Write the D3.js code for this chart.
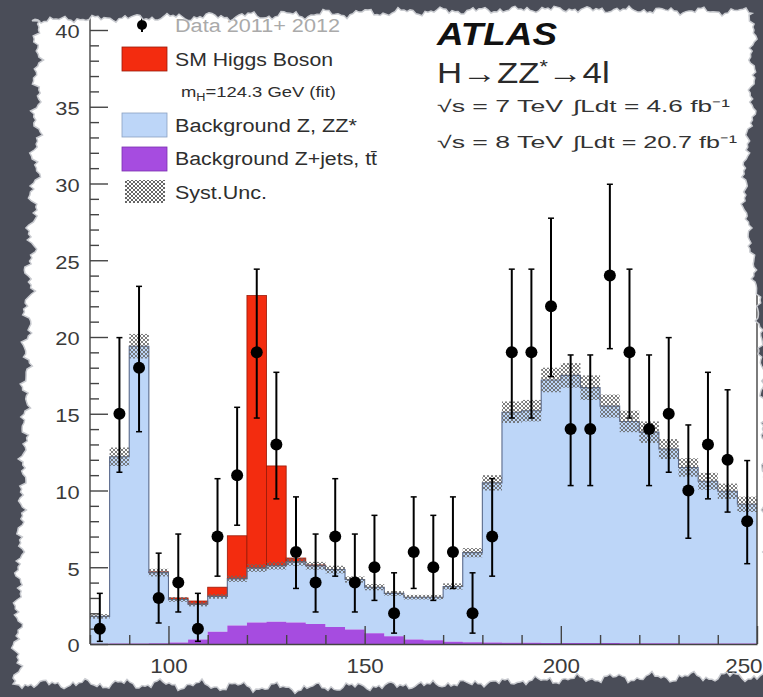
<!DOCTYPE html>
<html><head><meta charset="utf-8">
<script src="https://cdn.jsdelivr.net/npm/d3@7/dist/d3.min.js"></script>
<style>html,body{margin:0;padding:0;background:#4a4d58;}svg{display:block;}</style>
</head><body>
<script>
// ---------------- DATA ----------------
const binLow = [80,85,90,95,100,105,110,115,120,125,130,135,140,145,150,155,160,165,170,175,180,185,190,195,200,205,210,215,220,225,230,235,240,245];
const binWidth = 5;
const dataCounts = [1,15,18,3,4,1,7,11,19,13,6,4,7,4,5,2,6,5,6,2,7,19,19,22,14,14,24,19,14,15,10,13,12,8];
const dataErrLow  = [0.173,11.19,13.83,1.367,2.086,0.173,4.419,7.738,14.72,9.456,3.620,2.086,4.419,2.086,2.840,0.708,3.620,2.840,3.620,0.708,4.419,14.72,14.72,17.42,10.32,10.32,19.24,14.72,10.32,11.19,6.891,9.456,8.594,5.232];
const dataErrHigh = [3.300,19.96,23.30,5.918,7.163,3.300,10.77,15.42,24.42,17.70,9.584,7.163,10.77,7.163,8.382,4.638,9.584,8.382,9.584,4.638,10.77,24.42,24.42,27.74,18.83,18.83,29.95,24.42,18.83,19.96,14.27,17.70,16.56,11.95];
const zjets = [0.02,0.03,0.03,0.05,0.1,0.3,0.8,1.2,1.4,1.45,1.4,1.3,1.1,0.95,0.7,0.5,0.3,0.25,0.15,0.12,0.1,0.08,0.08,0.07,0.07,0.06,0.06,0.05,0.05,0.05,0.04,0.04,0.04,0.03];
const zz = [1.78,12.17,19.37,4.6,2.8,2.3,2.3,3.05,3.55,3.65,3.95,3.8,3.75,3.25,3.0,2.8,2.75,2.8,3.6,5.83,10.4,15.02,15.12,17.13,17.43,16.64,15.44,14.45,13.75,12.65,11.46,10.56,9.91,9.07];
const higgs = [0,0,0,0.05,0.1,0.2,0.6,2.8,17.75,6.5,0.25,0.05,0,0,0,0,0,0,0,0,0,0,0,0,0,0,0,0,0,0,0,0,0,0];
const systUnc = [0.15,0.6,0.8,0.25,0.15,0.15,0.15,0.2,0.25,0.25,0.25,0.25,0.25,0.2,0.2,0.15,0.15,0.15,0.2,0.3,0.5,0.7,0.7,0.8,0.8,0.8,0.75,0.7,0.7,0.65,0.6,0.55,0.5,0.5];
const yMajorTicks = [0,5,10,15,20,25,30,35,40];
const yMinorTicks = d3.range(0,41,1).filter(v=>v%5!==0);
const xMajorTicks = [100,150,200,250];
const xMinorTicks = [80,90,110,120,130,140,160,170,180,190,210,220,230,240];
const legendLabels = ["Data 2011+ 2012","SM Higgs Boson","Background Z, ZZ*","Background Z+jets, tt\u0304","Syst.Unc."];

// ---------------- SETUP ----------------
const W=763,H=697;
const FONT="'Liberation Sans', Arial, Helvetica, sans-serif";
const C_BLUE="#bdd6f8", C_RED="#f32c0f", C_PURPLE="#a64ce0";
const svg=d3.select("body").append("svg").attr("width",W).attr("height",H);
svg.append("rect").attr("width",W).attr("height",H).attr("fill","#ffffff");
const defs=svg.append("defs");
const pat=defs.append("pattern").attr("id","hatch").attr("patternUnits","userSpaceOnUse").attr("width",4).attr("height",4);
pat.append("path").attr("d","M0,0L4,4M4,0L0,4").attr("stroke","#666").attr("stroke-width",1).attr("fill","none");

const x=d3.scaleLinear().domain([80,250]).range([90,757]);
const y=d3.scaleLinear().domain([0,40]).range([644,30]);

const rows=binLow.map((lo,i)=>({lo,hi:lo+binWidth,zj:zjets[i],bkg:zjets[i]+zz[i],h:higgs[i],tot:zjets[i]+zz[i]+higgs[i],s:systUnc[i],n:dataCounts[i],el:dataErrLow[i],eh:dataErrHigh[i]}));
const ext=rows.concat([{...rows[rows.length-1],lo:rows[rows.length-1].hi}]);

const g=svg.append("g");
g.append("path").datum(ext).attr("fill",C_BLUE)
 .attr("d",d3.area().curve(d3.curveStepAfter).x(d=>x(d.lo)).y0(d=>y(d.zj)).y1(d=>y(d.bkg)));
g.append("path").datum(ext).attr("fill",C_PURPLE)
 .attr("d",d3.area().curve(d3.curveStepAfter).x(d=>x(d.lo)).y0(y(0)).y1(d=>y(d.zj)));
g.selectAll("rect.h").data(rows.filter(r=>r.h>0)).join("rect").attr("class","h")
 .attr("x",d=>x(d.lo)).attr("width",d=>x(d.hi)-x(d.lo))
 .attr("y",d=>y(d.tot)).attr("height",d=>y(d.bkg)-y(d.tot))
 .attr("fill",C_RED).attr("stroke","#9a1a08").attr("stroke-width",0.8);
g.append("path").datum(ext).attr("fill","none").attr("stroke","#5a6a8c").attr("stroke-width",1.1)
 .attr("d",d3.line().curve(d3.curveStepAfter).x(d=>x(d.lo)).y(d=>y(d.bkg)));
g.selectAll("rect.s").data(rows).join("rect").attr("class","s")
 .attr("x",d=>x(d.lo)).attr("width",d=>x(d.hi)-x(d.lo))
 .attr("y",d=>y(d.bkg+d.s)).attr("height",d=>y(d.bkg-d.s)-y(d.bkg+d.s))
 .attr("fill","url(#hatch)").attr("opacity",0.85);

// axes
const ax=svg.append("g");
function styleAxis(sel){sel.selectAll("path,line").attr("stroke","#444").attr("stroke-width",1.4);}
const yAxis=ax.append("g").attr("transform",`translate(${x(80)},0)`)
 .call(d3.axisLeft(y).tickValues(yMajorTicks).tickSize(-18).tickSizeOuter(0).tickPadding(9).tickFormat(d3.format("d")));
yAxis.select(".domain").attr("d",`M0,${y(0)}V18`);
yAxis.selectAll("text").attr("font-family",FONT).attr("font-size",19).attr("fill","#3a3a3a").attr("transform","scale(1.15,1)").attr("dy","0.42em");
styleAxis(yAxis);
const yMin=ax.append("g").attr("transform",`translate(${x(80)},0)`)
 .call(d3.axisLeft(y).tickValues(yMinorTicks).tickSize(-9).tickSizeOuter(0).tickFormat(""));
yMin.select(".domain").remove(); styleAxis(yMin);
const xAxis=ax.append("g").attr("transform",`translate(0,${y(0)})`)
 .call(d3.axisBottom(x).tickValues(xMajorTicks).tickSize(-18).tickSizeOuter(0).tickPadding(15).tickFormat(d3.format("d")));
xAxis.selectAll("text").attr("font-family",FONT).attr("font-size",20).attr("fill","#3a3a3a").attr("transform","scale(1.12,1)");
xAxis.selectAll(".tick text").filter(d=>d===250).attr("text-anchor","end").attr("x",4.5);
styleAxis(xAxis);
const xMin=ax.append("g").attr("transform",`translate(0,${y(0)})`)
 .call(d3.axisBottom(x).tickValues(xMinorTicks).tickSize(-9).tickSizeOuter(0).tickFormat(""));
xMin.select(".domain").remove(); styleAxis(xMin);
ax.append("line").attr("x1",x(250)).attr("x2",x(250)).attr("y1",18).attr("y2",y(0)).attr("stroke","#444").attr("stroke-width",1.4);

// data points
const dg=svg.append("g");
const dp=dg.selectAll("g").data(rows).join("g").attr("transform",d=>`translate(${x(d.lo+binWidth/2)},0)`);
dp.append("line").attr("y1",d=>y(d.el)).attr("y2",d=>y(d.eh)).attr("stroke","#000").attr("stroke-width",2);
dp.append("line").attr("x1",-3).attr("x2",3).attr("y1",d=>y(d.eh)).attr("y2",d=>y(d.eh)).attr("stroke","#000").attr("stroke-width",1.5);
dp.append("line").attr("x1",-3).attr("x2",3).attr("y1",d=>y(d.el)).attr("y2",d=>y(d.el)).attr("stroke","#000").attr("stroke-width",1.5);
dp.append("circle").attr("cy",d=>y(d.n)).attr("r",6).attr("fill","#000");

// legend
const lg=svg.append("g");
function ltext(xx,yy,str,len,opt={}){
  return lg.append("text").attr("x",xx).attr("y",yy).attr("font-family",FONT).attr("font-size",opt.size||18)
   .attr("fill",opt.fill||"#2e2e2e").attr("textLength",len).attr("lengthAdjust","spacingAndGlyphs").text(str);
}
lg.append("line").attr("x1",142).attr("x2",142).attr("y1",18).attr("y2",32).attr("stroke","#000").attr("stroke-width",2);
lg.append("circle").attr("cx",142).attr("cy",25).attr("r",5).attr("fill","#000");
ltext(175,32,legendLabels[0],165,{fill:"#aaa"});
lg.append("rect").attr("x",122).attr("y",47).attr("width",45).attr("height",24).attr("fill",C_RED).attr("stroke","#9a1a08").attr("stroke-width",0.8);
ltext(175,66,legendLabels[1],158);
const mh=lg.append("text").attr("font-family",FONT).attr("font-size",14.5).attr("fill","#2e2e2e").attr("transform","translate(181,97) scale(1.27,1)");
mh.append("tspan").text("m");
mh.append("tspan").attr("font-size",10).attr("dy",4).text("H");
mh.append("tspan").attr("dy",-4).text("=124.3 GeV (fit)");
lg.append("rect").attr("x",122).attr("y",113).attr("width",45).attr("height",24).attr("fill",C_BLUE).attr("stroke","#8aa0c0").attr("stroke-width",0.8);
ltext(175,132,legendLabels[2],182);
lg.append("rect").attr("x",122).attr("y",147).attr("width",45).attr("height",24).attr("fill",C_PURPLE).attr("stroke","#7a30b0").attr("stroke-width",0.8);
ltext(175,165,legendLabels[3],202);
lg.append("rect").attr("x",125).attr("y",180).attr("width",40).attr("height",23).attr("fill","url(#hatch)");
ltext(175,199,legendLabels[4],92);

// ATLAS labels
const tg=svg.append("g");
tg.append("text").attr("x",437).attr("y",45).attr("font-family",FONT).attr("font-size",32).attr("font-weight","bold").attr("font-style","italic")
 .attr("fill","#111").attr("textLength",120).attr("lengthAdjust","spacingAndGlyphs").text("ATLAS");
const hz=tg.append("text").attr("font-family",FONT).attr("font-size",29).attr("fill","#2a2a2a").attr("transform","translate(437,83) scale(1.2,1)");
hz.append("tspan").text("H\u2192ZZ");
hz.append("tspan").attr("font-size",18).attr("dy",-10).text("*");
hz.append("tspan").attr("dy",10).text("\u21924l");
function rtext(xx,yy,str,len){tg.append("text").attr("x",xx).attr("y",yy).attr("font-family",FONT).attr("font-size",17).attr("fill","#333")
 .attr("textLength",len).attr("lengthAdjust","spacingAndGlyphs").text(str);}
rtext(437,112,"\u221As = 7 TeV",126);
rtext(573,112,"\u222BLdt = 4.6 fb\u207B\u00B9",157);
rtext(437,148,"\u221As = 8 TeV",126);
rtext(573,148,"\u222BLdt = 20.7 fb\u207B\u00B9",164);

// ---------------- torn paper border ----------------
function nz(t,s){return Math.sin(t*0.83+s)*1.0+Math.sin(t*2.17+s*1.7)*0.7+Math.sin(t*4.61+s*2.3)*0.5+Math.sin(t*9.7+s*0.7)*0.35;}
const topB=d3.scaleLinear().domain([0,120,250,400,550,763]).range([21,18,16,12,9,12]);
const botB=d3.scaleLinear().domain([0,150,300,450,600,763]).range([684,684,688,684,678,676]);
const leftB=d3.scaleLinear().domain([0,150,300,450,600,697]).range([38,36,28,24,18,16]);
const rightB=d3.scaleLinear().domain([0,120,150,200,240,300,400,697]).range([753,752,746,744,750,758,764,770]);
const pts=[];
for(let xx=32;xx<=752;xx+=3)pts.push([xx,topB(xx)+2.2*nz(xx/5,1)]);
for(let yy=15;yy<=680;yy+=3)pts.push([rightB(yy)+2.2*nz(yy/5,2),yy]);
for(let xx=766;xx>=18;xx-=3)pts.push([xx,botB(xx)+2.6*nz(xx/5,3)]);
for(let yy=684;yy>=20;yy-=3)pts.push([leftB(yy)+3*nz(yy/5,4),yy]);
const paperD="M"+pts.map(p=>p[0].toFixed(1)+","+p[1].toFixed(1)).join("L")+"Z";
svg.append("path").attr("d",`M0,0H${W}V${H}H0Z`+paperD).attr("fill-rule","evenodd").attr("fill","#4a4d58");
svg.append("path").attr("d",paperD).attr("fill","none").attr("stroke","#c9cbd0").attr("stroke-width",1.5);
</script>
</body></html>
